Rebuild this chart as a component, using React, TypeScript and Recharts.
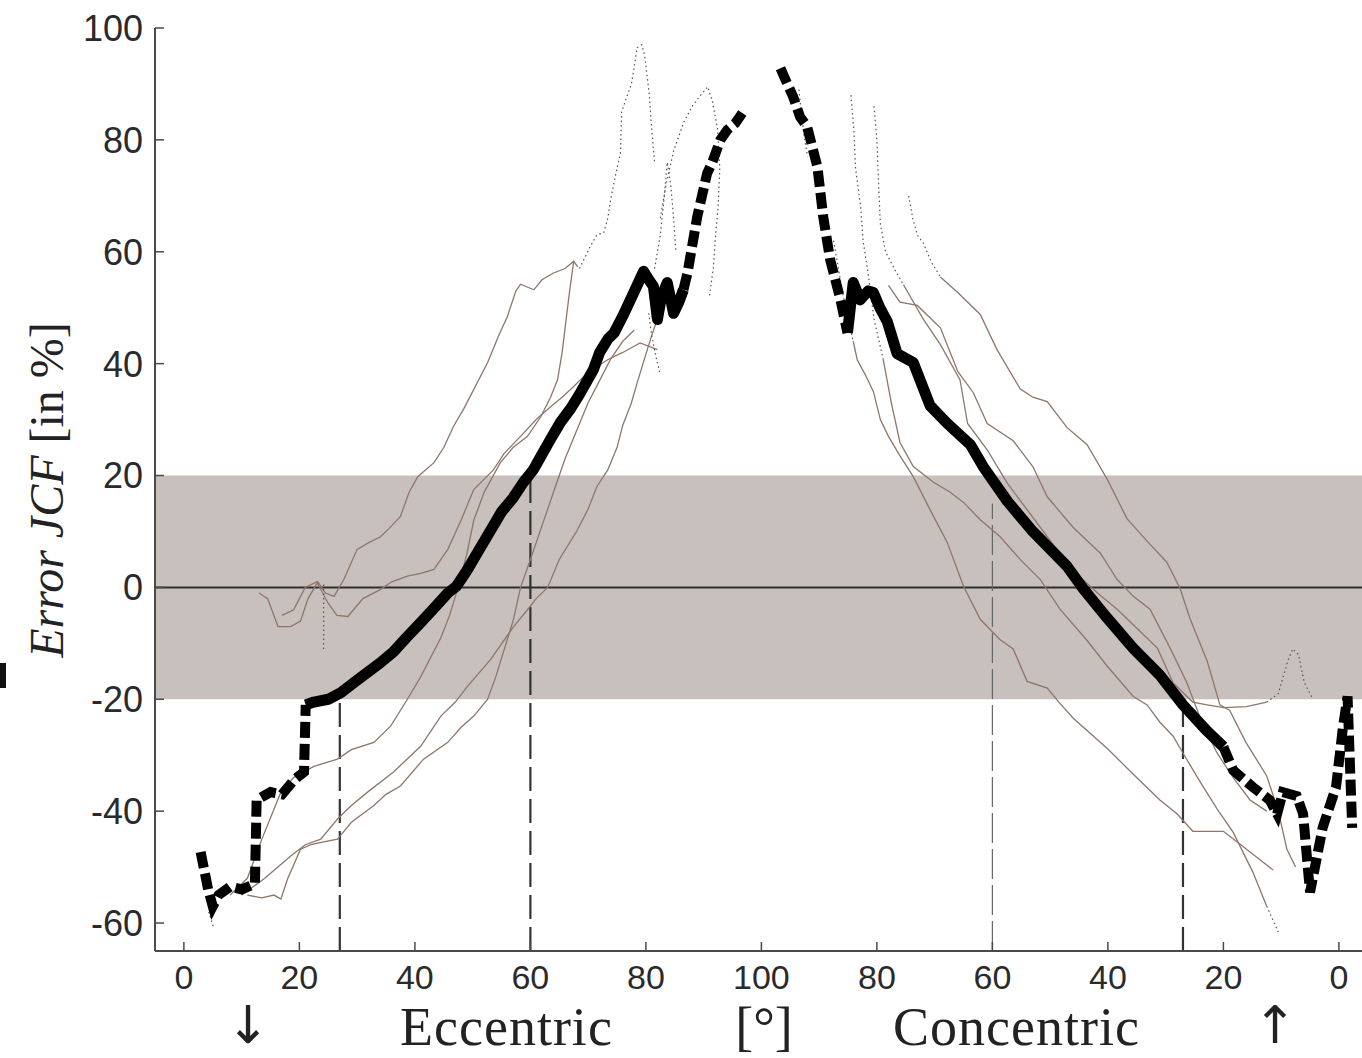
import { LineChart, Line, XAxis, YAxis, ReferenceArea, ReferenceLine } from 'recharts'

// x runs along the whole movement: 0..100 is the eccentric angle,
// 100..200 is the concentric phase (concentric angle = 200 - x)
type Pt = [number, number]

const xTicks = [0, 20, 40, 60, 80, 100, 120, 140, 160, 180, 200]
const yTicks = [-60, -40, -20, 0, 20, 40, 60, 80, 100]

const tolerance = [-20, 20]
const eccentricMarks = [27, 60]
const concentricMarks = [60, 27]

// mean error, split where the curve changes from dashed to solid
const meanEccLow: Pt[] = [[2.9, -47.3], [4.2, -54], [5, -57], [6, -55], [8, -53.5], [10, -54], [12.3, -53], [12.6, -38], [15, -36.6], [17, -37], [19, -34.5], [20.8, -33], [21.1, -21]]
const meanEccMid: Pt[] = [[21.1, -21], [22.5, -20.5], [25, -20], [27.2, -18.8], [29.5, -17], [31.8, -15.2], [34, -13.5], [36.3, -11.5], [38.5, -9], [41, -6.3], [43.5, -3.5], [45.7, -1], [47.2, 0.2], [49, 3], [51, 6.5], [53, 10], [55, 13.5], [57, 16], [58.8, 18.8], [60.5, 21], [61.8, 23.4], [63.5, 26.5], [65.2, 29.5], [67, 32], [68.5, 34.5], [70.9, 38.9], [72, 42], [73.5, 44.5], [74.5, 45.5], [76, 48.5], [77.9, 52.7], [79.6, 56.5], [80.5, 55], [81.3, 53.8], [82, 47.9], [82.7, 52], [83.7, 54.5], [84.8, 49], [85.7, 51], [86.5, 53.2]]
const meanEccHigh: Pt[] = [[86.5, 53.2], [87.2, 56.2], [88.9, 66.3], [90.6, 74], [91.5, 76], [92.9, 80], [94.1, 81.8], [95.5, 83], [96.7, 84.8]]
const meanConHigh: Pt[] = [[103.3, 92.8], [104.5, 90], [105.5, 87.7], [106.7, 84.1], [107.9, 82.4], [109.7, 75.2], [110.7, 66.3], [111.9, 58.6], [113.7, 51.4], [114.9, 45.5]]
const meanConMid: Pt[] = [[114.9, 45.5], [115.9, 54.5], [117.1, 51.4], [118.5, 53], [119.4, 52.7], [120.5, 50], [121.8, 47.5], [123.5, 41.8], [126.3, 40.2], [129.2, 32.5], [132.2, 29.3], [136.2, 25.5], [138.4, 21.6], [142.6, 15.4], [147, 10], [152.9, 3.8], [155.7, -0.2], [159.9, -5.5], [164.4, -10.9], [169, -15.7], [173, -21], [177.2, -25.7], [180, -28.5]]
const meanConLow: Pt[] = [[180, -28.5], [181.7, -32.7], [185.1, -35.7], [188, -38], [189.3, -40.5], [190.3, -36.6], [192.7, -37.3], [193.8, -40.5], [195, -54.5], [197.2, -42.9], [199.5, -35.7], [200.7, -25], [201.5, -19.5], [202.3, -43]]

// single subjects, eccentric phase
const ecc1: Pt[] = [[13, -1], [14.5, -2], [16.3, -7], [18.5, -7], [20.2, -6], [21.5, -2], [23.2, 1], [24.5, -1], [26, -1.6], [27.7, 1.4], [30, 6.8], [32, 8], [34, 9], [35.5, 10.5], [37.5, 12.7], [39, 17], [40.5, 19.8], [43.3, 22.3], [45, 25], [46.7, 28.8], [48.5, 32], [50.2, 35.4], [52.6, 40.2], [54.5, 45], [56, 48.4], [57.5, 53], [58.3, 54.2], [60.6, 53.2], [62, 55], [64, 56.2], [66, 57], [67.5, 58.3], [68.2, 57.3]]
const ecc2: Pt[] = [[17, -5], [19, -4], [21, 0], [23, 1], [24.9, -2.7], [26.5, -5], [28.4, -5.2], [31, -2], [34, -0.4], [36, 1], [38.7, 2], [41, 2.5], [43.3, 3.2], [45.7, 6.8], [48, 12], [50.2, 17.5], [53.6, 21], [55.5, 24], [58.3, 27], [61, 30], [63.5, 32.3], [65.5, 34], [67.5, 35.9], [70, 38.5], [73.4, 40.7], [76, 42], [79, 43.7], [82, 42.5]]
const ecc3: Pt[] = [[8, -55], [11, -52], [13.5, -45], [16.8, -36.6], [19, -34], [22.5, -32], [26.6, -30.7], [29, -29], [32.9, -27.7], [35.8, -24.8], [38.7, -20], [41, -16], [43, -12], [44.5, -9], [46, -5], [47.5, 0], [49, 6], [50.2, 12], [52, 17], [54.8, 22.3], [57, 25], [59.5, 27], [61.8, 30.5], [63.5, 34], [64.7, 37.1], [65.5, 42], [66.2, 48], [66.8, 53], [67.5, 58.3]]
const ecc4: Pt[] = [[10, -55], [14, -52], [18.5, -48], [21, -46], [23.7, -45], [26.6, -41.4], [29, -39], [31.8, -36.6], [36.3, -33], [41, -28.4], [44.5, -23], [47, -20.5], [49.1, -17.7], [53.1, -12.9], [57.1, -7], [59.5, -4], [61, -2], [63, 0], [65, 5], [68, 10], [70, 14], [71.5, 18], [73.4, 21], [75, 25], [76, 29], [77.5, 33], [78.5, 36.6], [79.5, 40], [81, 45], [82, 48]]
const ecc5: Pt[] = [[11, -55], [13.5, -55.5], [15.6, -55], [16.8, -55.7], [18, -52], [20.2, -46.8], [22, -46], [24.2, -45.5], [26.6, -45], [29, -42], [32.9, -39], [35, -37], [37.5, -35.5], [41.5, -30.7], [45.7, -27.7], [48, -25], [50.2, -23], [52.6, -20], [54, -16], [55.5, -11], [57, -6], [58.3, 0], [60, 5], [62, 11], [64, 17], [66, 23], [68, 28], [70, 33], [72, 37], [74, 41], [76, 44], [78, 46]]

// sparse parts of the subject curves (dotted)
const eccDot1: Pt[] = [[68.5, 57], [70.4, 61], [71.5, 63], [72.7, 63.4], [73.4, 66], [73.9, 69.3], [74.8, 74], [75.6, 77.7], [75.8, 85], [76.8, 88], [77.5, 90], [78.5, 96.5], [79.3, 97], [79.8, 95], [80.6, 88], [81, 82], [81.5, 76]]
const eccDot2: Pt[] = [[81.5, 57], [82.5, 63], [83.2, 70], [83.7, 76], [84.3, 72], [84.8, 66], [85.2, 60]]
const eccDot3: Pt[] = [[82.5, 66], [83.5, 72], [84.8, 78], [86.5, 83], [88, 86], [89.5, 88], [90.7, 89.5], [91.5, 87], [92.4, 82], [92.8, 75], [92.5, 68], [92, 62], [91.7, 57.3], [91, 52]]
const eccDot4: Pt[] = [[80.5, 49], [81, 45], [81.8, 41], [82.5, 38]]
const eccDot5: Pt[] = [[24.2, 0.5], [24.2, -11]]
const eccDot6: Pt[] = [[4.3, -58], [5.2, -61]]

// single subjects, concentric phase
const con1: Pt[] = [[131, 55.5], [134, 52.7], [137.9, 48.8], [140.8, 42.5], [144.8, 35.5], [147, 34], [149.5, 33.2], [152.9, 28.6], [156.4, 25.5], [159.9, 19.3], [163.3, 12.3], [167.3, 7.7], [170.2, 4.5], [172.5, -0.2], [174.2, -5.5], [177.2, -13.2], [179.4, -21], [181.1, -22], [183.9, -27.7], [187.5, -33.7], [189.5, -40], [191, -46.8], [192.5, -50]]
const con2: Pt[] = [[122, 54], [124, 51], [127, 50.4], [131, 46.4], [134, 38.6], [136.7, 34.8], [139.1, 29.3], [143.6, 26.2], [147, 21.6], [149.5, 16.2], [154, 10.7], [158.7, 6.1], [161.6, 1.4], [164.4, -1.6], [167.3, -3.9], [170.8, -10.9], [173.7, -17.1], [176, -23.4], [178.9, -29.6], [181.7, -34], [184.6, -38], [187.5, -40]]
const con3: Pt[] = [[121.1, 40.7], [122.5, 33], [124, 25.9], [126.3, 21.6], [129.8, 18.8], [132.7, 17], [135, 15.2], [137.9, 12.1], [141.3, 9.1], [144.8, 5], [148.3, 1.4], [151.7, -3.9], [156.4, -9.5], [159.9, -14.1], [164.4, -19.5], [166.8, -21], [169, -24.1], [171.3, -26.6], [173.5, -30.5], [176, -34.8], [178.9, -39.6], [181.7, -43.8], [185.1, -50.9], [187.5, -57]]
const con4: Pt[] = [[124.6, 54.1], [128, 48], [131, 43.4], [134.4, 37.1], [135.7, 29.3], [139.1, 24.6], [142.6, 18.6], [146, 13.9], [150.5, 7.7], [154, 3], [158.1, -0.9], [161.6, -3.9], [165.6, -7.9], [168.6, -10.9], [171.3, -17.1], [174.7, -20.5], [177.2, -21], [180, -21.5], [184, -21.3], [187.5, -20.5]]
const con5: Pt[] = [[115.9, 44], [116.6, 40.7], [118, 38], [119.4, 35], [120.6, 30], [122, 27], [124, 23.5], [126.3, 19.8], [129.2, 13.9], [132.2, 8], [135, 0.2], [137.9, -5.7], [141.3, -9.3], [143.6, -11], [146, -16.8], [149.5, -18], [151.5, -20.5], [154, -23.4], [159.9, -28.8], [164.4, -33.4], [169, -38], [172, -40.5], [174.7, -43.6], [180, -43.6], [182.9, -45.9], [185.5, -48], [188.6, -50.5]]

const conDot1: Pt[] = [[125.5, 70], [126.2, 66], [127, 63], [128, 61.6], [129.5, 58], [131, 55.5]]
const conDot2: Pt[] = [[119.5, 86], [120, 80], [120.3, 72], [120.6, 65], [121.5, 60], [123, 57], [124.6, 54.1]]
const conDot3: Pt[] = [[115.5, 88], [116, 82], [116.3, 75], [117.2, 68], [117.6, 62], [118.5, 56], [119.5, 48], [121.1, 40.7]]
const conDot4: Pt[] = [[112.5, 62], [114, 53], [115.9, 44]]
const conDot5: Pt[] = [[106.5, 89], [107, 84], [107.5, 80], [108, 77]]
const conDot6: Pt[] = [[187.5, -57], [189.5, -61.6]]
const conDot7: Pt[] = [[187.5, -20.5], [189.5, -19], [191.2, -13], [192, -11], [193, -12], [194, -17], [195.5, -20]]

const toRows = (pts: Pt[]) => pts.map(([x, y]) => ({ x, y }))

const subjects = [ecc1, ecc2, ecc3, ecc4, ecc5, con1, con2, con3, con4, con5]
const sparse = [eccDot1, eccDot2, eccDot3, eccDot4, eccDot5, eccDot6, conDot1, conDot2, conDot3, conDot4, conDot5, conDot6, conDot7]
const meanSolid = [meanEccMid, meanConMid]
const meanDashed = [meanEccLow, meanEccHigh, meanConHigh, meanConLow]

const SANS = '"Liberation Sans", Arial, sans-serif'
const SERIF = '"Liberation Serif", "Times New Roman", serif'
const AXIS = '#4a4a4a'

function YTick({ x, y, payload }: any) {
  const axisX = x + 12
  return (
    <g>
      <line x1={axisX} x2={axisX + 9} y1={y} y2={y} stroke={AXIS} strokeWidth={1.5} />
      <text x={x} y={y} dy="0.36em" textAnchor="end" fontSize={36} fontFamily={SANS} fill="#2a2a2a">
        {payload.value}
      </text>
    </g>
  )
}

function XTick({ x, y, payload }: any) {
  const axisY = y - 14
  const v = payload.value
  return (
    <g>
      <line x1={x} x2={x} y1={axisY} y2={axisY - 9} stroke={AXIS} strokeWidth={1.5} />
      <text x={x} y={y} dy="0.71em" textAnchor="middle" fontSize={34} fontFamily={SANS} fill="#2a2a2a">
        {v <= 100 ? v : 200 - v}
      </text>
    </g>
  )
}

export default function App() {
  return (
    <div style={{ position: 'absolute', left: 0, top: 0, width: 1362, height: 1058, background: '#fff' }}>
      <LineChart width={1362} height={1058} margin={{ top: 28, right: 0, bottom: 0, left: 0 }}>
        <XAxis
          type="number"
          dataKey="x"
          domain={[-5, 204]}
          ticks={xTicks}
          allowDataOverflow
          height={107}
          tickSize={0}
          tickMargin={14}
          tickLine={false}
          tick={<XTick />}
          axisLine={{ stroke: AXIS, strokeWidth: 2 }}
        />
        <YAxis
          type="number"
          dataKey="y"
          domain={[-65, 100]}
          ticks={yTicks}
          allowDataOverflow
          width={155}
          tickSize={0}
          tickMargin={12}
          tickLine={false}
          tick={<YTick />}
          axisLine={{ stroke: AXIS, strokeWidth: 2 }}
        />
        <ReferenceArea y1={tolerance[0]} y2={tolerance[1]} fill="#c8c0bd" fillOpacity={1} stroke="none" />
        <ReferenceLine y={0} stroke="#2e2e2e" strokeWidth={2} />
        {eccentricMarks.map(a => (
          <ReferenceLine
            key={'e' + a}
            segment={[{ x: a, y: -65 }, { x: a, y: a < 40 ? tolerance[0] : tolerance[1] }]}
            stroke="#333"
            strokeWidth={2.2}
            strokeDasharray="24 8"
          />
        ))}
        {concentricMarks.map(a => (
          <ReferenceLine
            key={'c' + a}
            segment={[{ x: 200 - a, y: -65 }, { x: 200 - a, y: a < 40 ? tolerance[0] : 15 }]}
            stroke={a < 40 ? '#333' : '#666'}
            strokeWidth={a < 40 ? 2.2 : 1.2}
            strokeDasharray={a < 40 ? '24 8' : '30 6'}
          />
        ))}
        {subjects.map((s, i) => (
          <Line
            key={'s' + i}
            data={toRows(s)}
            dataKey="y"
            type="linear"
            stroke="#8f766a"
            strokeWidth={1.3}
            dot={false}
            activeDot={false}
            isAnimationActive={false}
          />
        ))}
        {sparse.map((s, i) => (
          <Line
            key={'d' + i}
            data={toRows(s)}
            dataKey="y"
            type="linear"
            stroke="#555"
            strokeWidth={1.2}
            strokeDasharray="1.5 3"
            dot={false}
            activeDot={false}
            isAnimationActive={false}
          />
        ))}
        {meanSolid.map((s, i) => (
          <Line
            key={'m' + i}
            data={toRows(s)}
            dataKey="y"
            type="linear"
            stroke="#000"
            strokeWidth={11}
            strokeLinejoin="round"
            dot={false}
            activeDot={false}
            isAnimationActive={false}
          />
        ))}
        {meanDashed.map((s, i) => (
          <Line
            key={'md' + i}
            data={toRows(s)}
            dataKey="y"
            type="linear"
            stroke="#000"
            strokeWidth={10}
            strokeDasharray="16 6"
            dot={false}
            activeDot={false}
            isAnimationActive={false}
          />
        ))}
      </LineChart>
      <svg width={1362} height={1058} style={{ position: 'absolute', left: 0, top: 0, pointerEvents: 'none' }}>
        <rect x={0} y={663} width={6} height={25} fill="#111" />
        <text transform="translate(63 490) rotate(-90)" textAnchor="middle" fontSize={48} fontFamily={SERIF} fill="#222">
          <tspan fontStyle="italic">Error JCF</tspan>
          <tspan> [in %]</tspan>
        </text>
        <text x={248} y={1043} textAnchor="middle" fontSize={52} fontFamily='"DejaVu Sans", sans-serif' fill="#222">↓</text>
        <text x={400} y={1045} fontSize={54} fontFamily={SERIF} fill="#222" letterSpacing={1}>Eccentric</text>
        <text x={764} y={1045} textAnchor="middle" fontSize={54} fontFamily={SERIF} fill="#222">[°]</text>
        <text x={893} y={1045} fontSize={54} fontFamily={SERIF} fill="#222" letterSpacing={1}>Concentric</text>
        <text x={1275} y={1043} textAnchor="middle" fontSize={52} fontFamily='"DejaVu Sans", sans-serif' fill="#222">↑</text>
      </svg>
    </div>
  )
}
